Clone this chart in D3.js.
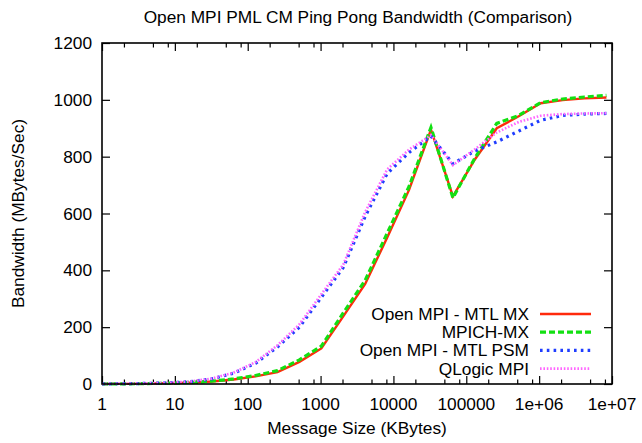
<!DOCTYPE html>
<html>
<head>
<meta charset="utf-8">
<script src="https://cdn.jsdelivr.net/npm/d3@7"></script>
<style>
  html, body { margin: 0; padding: 0; background: #fff; }
  svg text { font-family: "Liberation Sans", Arial, Helvetica, sans-serif; fill: #000; }
</style>
</head>
<body>
<svg id="chart" width="642" height="443"></svg>
<script>
(function () {
// ---- data ----
const messageSizes = [1, 2, 4, 8, 16, 32, 64, 128, 256, 512, 1024, 2048, 4096, 8192, 16384,
  32768, 65536, 131072, 262144, 524288, 1048576, 2097152, 4194304, 8388608];
const mtlMX   = [0.3, 0.6, 1.2, 2.4, 5, 9, 16, 27, 42, 78, 125, 238, 352, 515, 683,
  895, 660, 790, 900, 942, 988, 999, 1005, 1008];
const mpichMX = [0.3, 0.6, 1.3, 2.6, 5.5, 10, 18, 30, 47, 85, 133, 250, 365, 530, 695,
  903, 655, 795, 917, 945, 990, 1003, 1010, 1016];
const mtlPSM  = [0.5, 1, 2, 4, 8, 18, 38, 73, 130, 200, 305, 410, 590, 740, 815,
  872, 775, 820, 852, 890, 928, 945, 950, 952];
const qlogic  = [0.5, 1, 2.1, 4.2, 8.5, 19, 40, 77, 136, 210, 316, 420, 605, 755, 825,
  876, 770, 826, 885, 922, 944, 950, 952, 953];
const seriesNames = ["Open MPI - MTL MX", "MPICH-MX", "Open MPI - MTL PSM", "QLogic MPI"];
const xTickValues = [1, 10, 100, 1000, 10000, 100000, 1e6, 1e7];
const xTickLabels = ["1", "10", "100", "1000", "10000", "100000", "1e+06", "1e+07"];
const xMinorMultipliers = [2, 5, 8];
const yTickValues = [0, 200, 400, 600, 800, 1000, 1200];
const titleText = "Open MPI PML CM Ping Pong Bandwidth (Comparison)";
const xAxisTitle = "Message Size (KBytes)";
const yAxisTitle = "Bandwidth (MBytes/Sec)";

// ---- layout ----
const L = 102, R = 612, T = 43, B = 384;
const FS = 17.3;
const svg = d3.select("#chart");
const x = d3.scaleLog().domain([1, 1e7]).range([L, R]);
const y = d3.scaleLinear().domain([0, 1200]).range([B, T]);

const styles = [
  { color: "#ff2a0c", width: 2.4, dash: null },
  { color: "#12e012", width: 3.2, dash: "6,3" },
  { color: "#1f3dff", width: 3.2, dash: "2.6,4.2" },
  { color: "#ff66ff", width: 2.6, dash: "1.6,1.8" }
];
const allSeries = [mtlMX, mpichMX, mtlPSM, qlogic];

// ---- axes (gnuplot-like, ticks inward and mirrored) ----
const gAxes = svg.append("g");
const majorLen = 8, minorLen = 4.5;
const minorTicks = [];
for (let d = 1; d < 1e7; d *= 10) xMinorMultipliers.forEach(m => minorTicks.push(d * m));

gAxes.append("g").attr("transform", `translate(0,${B})`)
  .call(d3.axisTop(x).tickValues(xTickValues).tickSize(majorLen).tickFormat(""));
gAxes.append("g").attr("transform", `translate(0,${B})`)
  .call(d3.axisTop(x).tickValues(minorTicks).tickSize(minorLen).tickFormat(""));
gAxes.append("g").attr("transform", `translate(0,${T})`)
  .call(d3.axisBottom(x).tickValues(xTickValues).tickSize(majorLen).tickFormat(""));
gAxes.append("g").attr("transform", `translate(0,${T})`)
  .call(d3.axisBottom(x).tickValues(minorTicks).tickSize(minorLen).tickFormat(""));
gAxes.append("g").attr("transform", `translate(${L},0)`)
  .call(d3.axisRight(y).tickValues(yTickValues).tickSize(majorLen).tickFormat(""));
gAxes.append("g").attr("transform", `translate(${R},0)`)
  .call(d3.axisLeft(y).tickValues(yTickValues).tickSize(majorLen).tickFormat(""));

gAxes.selectAll(".domain").remove();
gAxes.selectAll(".tick line").attr("stroke", "#000").attr("stroke-width", 1.2);

// tick labels
svg.append("g").selectAll("text").data(xTickValues).join("text")
  .attr("x", d => x(d)).attr("y", 410)
  .attr("text-anchor", "middle").attr("font-size", FS)
  .text((d, i) => xTickLabels[i]);
svg.append("g").selectAll("text").data(yTickValues).join("text")
  .attr("x", 92).attr("y", d => y(d) + 6)
  .attr("text-anchor", "end").attr("font-size", FS)
  .text(d => d);

// ---- series ----
const line = d3.line().x(d => x(d[0])).y(d => y(d[1]));
const plot = svg.append("g");
allSeries.forEach((vals, i) => {
  const pts = messageSizes.map((s, j) => [s, vals[j]]);
  const p = plot.append("path").datum(pts)
    .attr("d", line).attr("fill", "none")
    .attr("stroke", styles[i].color).attr("stroke-width", styles[i].width)
    .attr("stroke-linejoin", "miter");
  if (styles[i].dash) p.attr("stroke-dasharray", styles[i].dash);
});

// frame
svg.append("rect").attr("x", L).attr("y", T).attr("width", R - L).attr("height", B - T)
  .attr("fill", "none").attr("stroke", "#000").attr("stroke-width", 1.6);

// ---- legend ----
const legY0 = 314, legDy = 18.2;
const leg = svg.append("g");
seriesNames.forEach((name, i) => {
  const yy = legY0 + i * legDy;
  leg.append("text").attr("x", 529).attr("y", yy + 6)
    .attr("text-anchor", "end").attr("font-size", FS).text(name);
  const l = leg.append("line").attr("x1", 540).attr("x2", 591).attr("y1", yy).attr("y2", yy)
    .attr("stroke", styles[i].color).attr("stroke-width", styles[i].width);
  if (styles[i].dash) l.attr("stroke-dasharray", styles[i].dash);
});

// ---- titles ----
svg.append("text").attr("x", 358).attr("y", 23).attr("text-anchor", "middle")
  .attr("font-size", FS).text(titleText);
svg.append("text").attr("x", 357).attr("y", 434).attr("text-anchor", "middle")
  .attr("font-size", FS).text(xAxisTitle);
svg.append("text").attr("transform", `translate(24,${(T + B) / 2}) rotate(-90)`)
  .attr("text-anchor", "middle").attr("font-size", FS).text(yAxisTitle);
})();
</script>
</body>
</html>
